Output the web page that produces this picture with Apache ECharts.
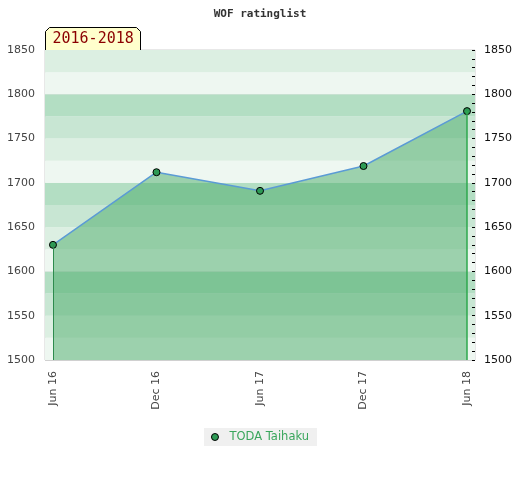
<!DOCTYPE html>
<html>
<head>
<meta charset="utf-8">
<script src="https://cdn.jsdelivr.net/npm/echarts@6/dist/echarts.min.js"></script>
<style>html,body{margin:0;padding:0;background:#fff}#c{width:520px;height:480px}</style>
</head>
<body>
<div id="c"></div>
<script>
var categories = ['Jun 16', 'Dec 16', 'Jun 17', 'Dec 17', 'Jun 18'];
var ratings = [1630, 1712, 1691, 1719, 1781];
var seriesName = 'TODA Taihaku';
var titleText = 'WOF ratinglist';
var periodText = '2016-2018';
var yTicks = [1500, 1550, 1600, 1650, 1700, 1750, 1800, 1850];

var points = ratings.map(function (v, i) { return [i, v]; });
var idx = categories.map(function (c, i) { return i; });
var yMin = yTicks[0], yMax = yTicks[yTicks.length - 1];
var last = ratings.length - 1;

var chart = echarts.init(document.getElementById('c'), null, {renderer: 'canvas'});
chart.setOption({
  animation: false,
  title: {
    text: titleText, left: 'center', top: 4,
    textStyle: {fontFamily: 'DejaVu Sans Mono', fontSize: 11, fontWeight: 'bold', color: '#333'}
  },
  grid: {left: 45, right: 45, top: 50, bottom: 120, show: true, borderColor: '#d0d0d0', borderWidth: 1, backgroundColor: 'transparent'},
  legend: {
    bottom: 34, left: 'center', backgroundColor: '#f0f0f0', padding: [3, 8, 3, 7],
    itemWidth: 7, itemHeight: 7, itemGap: 6,
    textStyle: {color: '#3aa65c', fontFamily: 'DejaVu Sans', fontSize: 11.5, padding: [0, 0, 0, 6]},
    data: [{name: seriesName, icon: 'circle', itemStyle: {color: '#2e9a55', borderColor: '#000', borderWidth: 1}}]
  },
  xAxis: {
    type: 'value', min: -0.077, max: last + 0.077,
    splitLine: {show: false},
    axisLine: {show: false},
    axisTick: {show: false},
    axisLabel: {
      customValues: idx, rotate: 90, margin: 11,
      fontFamily: 'DejaVu Sans', fontSize: 11, color: '#444',
      formatter: function (v) { return categories[Math.round(v)] || ''; }
    }
  },
  yAxis: [
    {
      type: 'value', min: yMin, max: yMax, interval: 50, position: 'left',
      axisLine: {show: false}, axisTick: {show: false},
      axisLabel: {fontFamily: 'DejaVu Sans', fontSize: 11, color: '#444', margin: 10,
        formatter: function (v) { return String(v); }},
      splitLine: {show: true, lineStyle: {color: ['#d0d0d0', 'rgba(0,0,0,0)'], width: 1}}
    },
    {
      type: 'value', min: yMin, max: yMax, interval: 10, position: 'right',
      axisLine: {show: false},
      axisTick: {show: true, inside: true, length: 3, lineStyle: {color: '#000'}},
      axisLabel: {
        fontFamily: 'DejaVu Sans', fontSize: 11, color: '#111', margin: 9,
        formatter: function (v) { return (v % 50 === 0) ? String(v) : ''; }
      },
      splitLine: {show: false}
    },
    {
      type: 'value', min: yMin, max: yMax, interval: 25, show: true,
      axisLine: {show: false}, axisTick: {show: false}, axisLabel: {show: false},
      splitLine: {show: false},
      splitArea: {show: true, areaStyle: {color: ['#eef7f1', '#dcefe2', '#c8e6d3', '#b3dec3']}}
    }
  ],
  graphic: [{
    type: 'group', left: 45, top: 27, z: 100,
    children: [
      {type: 'polygon', shape: {points: [[0, 23], [0, 4], [4, 0], [91, 0], [95, 4], [95, 23]]},
       style: {fill: '#ffffcc', stroke: '#000', lineWidth: 1}},
      {type: 'text', left: 7, top: 4,
       style: {text: periodText, fill: '#8b0000', font: '15px "DejaVu Sans Mono"'}}
    ]
  }],
  series: [{
    name: seriesName, type: 'line', yAxisIndex: 0, data: points, z: 3,
    symbol: 'circle', symbolSize: 7,
    itemStyle: {color: '#2e9a55', borderColor: '#000', borderWidth: 1},
    lineStyle: {color: '#5b9bd5', width: 1.5},
    areaStyle: {color: '#43a863', opacity: 0.48, origin: 'start'},
    markLine: {
      silent: true, symbol: 'none', label: {show: false},
      data: [
        [{coord: [0, yMin], lineStyle: {color: '#2e8b4e', width: 1, type: 'solid'}}, {coord: [0, ratings[0]]}],
        [{coord: [last, yMin], lineStyle: {color: '#2ea84e', width: 1.5, type: 'solid'}}, {coord: [last, ratings[last]]}]
      ]
    }
  }]
});
</script>
</body>
</html>
